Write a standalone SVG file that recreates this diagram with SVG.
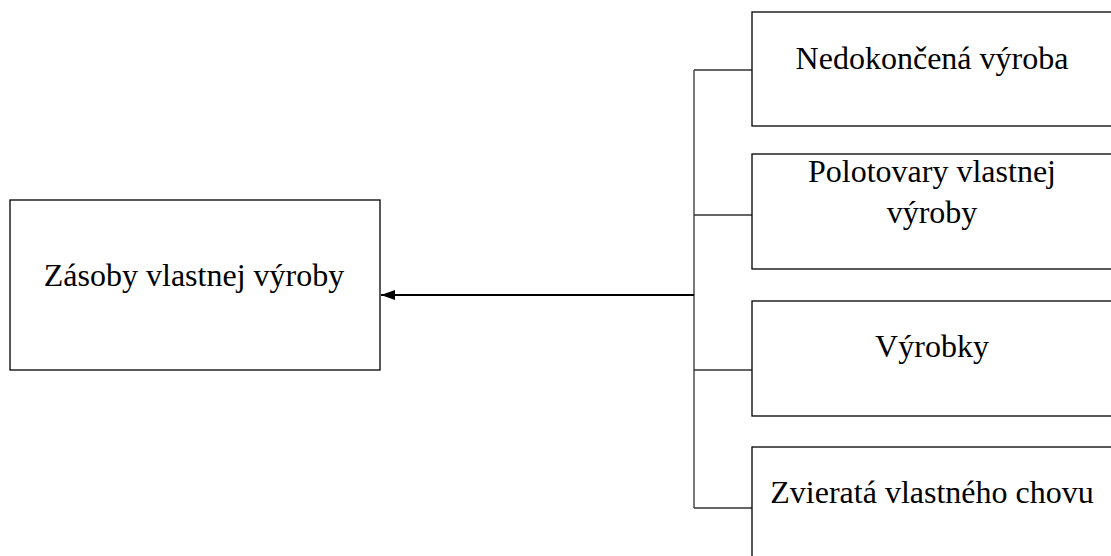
<svg xmlns="http://www.w3.org/2000/svg" width="1111" height="556" viewBox="0 0 1111 556">
<style>
.box{fill:#fff;stroke:#000;stroke-width:1.3}
.lbl{font-family:"Liberation Serif","Times New Roman",serif;font-size:32px;fill:#000;text-anchor:middle}
.br{stroke:#333;stroke-width:1.3;fill:none}
.main{stroke:#000;stroke-width:2.2;fill:none}
</style>
<defs>
<marker id="ah" markerWidth="14" markerHeight="10" refX="0" refY="5" orient="auto" markerUnits="userSpaceOnUse" viewBox="0 0 14 10">
<path d="M0,5 L14,0 L14,10 Z" fill="#000"/>
</marker>
</defs>
<g id="connectors">
<path class="br" d="M694,70 V508 M694,70 H752 M694,215 H752 M694,370 H752 M694,508 H752"/>
<path class="main" d="M381,295 H694" marker-start="url(#ah)"/>
</g>
<g id="n0">
<rect class="box" x="10" y="200" width="370" height="170"/>
<text class="lbl" x="194" y="286">Zásoby vlastnej výroby</text>
</g>
<g id="n1">
<rect class="box" x="752" y="12" width="370" height="114"/>
<text class="lbl" x="932" y="69">Nedokončená výroba</text>
</g>
<g id="n2">
<rect class="box" x="752" y="154" width="370" height="115"/>
<text class="lbl" x="932" y="182">Polotovary vlastnej</text>
<text class="lbl" x="932" y="223">výroby</text>
</g>
<g id="n3">
<rect class="box" x="752" y="301" width="370" height="115"/>
<text class="lbl" x="932" y="357">Výrobky</text>
</g>
<g id="n4">
<rect class="box" x="752" y="447" width="370" height="130"/>
<text class="lbl" x="932" y="503">Zvieratá vlastného chovu</text>
</g>
</svg>
